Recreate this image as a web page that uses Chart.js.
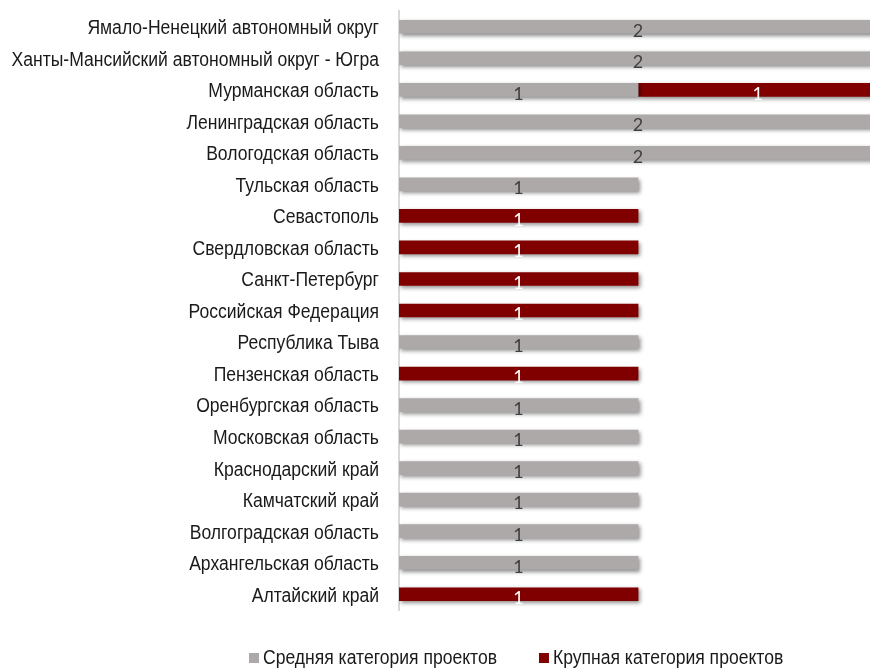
<!DOCTYPE html>
<html>
<head>
<meta charset="utf-8">
<script src="https://cdn.jsdelivr.net/npm/chart.js@4"></script>
<style>
  html, body { margin: 0; padding: 0; background: #fff; }
  #wrap { width: 870px; height: 669px; position: relative; }
</style>
</head>
<body>
<div id="wrap"><canvas id="chart"></canvas></div>
<script>
// Data
const regions = [
    "Ямало-Ненецкий автономный округ",
    "Ханты-Мансийский автономный округ - Югра",
    "Мурманская область",
    "Ленинградская область",
    "Вологодская область",
    "Тульская область",
    "Севастополь",
    "Свердловская область",
    "Санкт-Петербург",
    "Российская Федерация",
    "Республика Тыва",
    "Пензенская область",
    "Оренбургская область",
    "Московская область",
    "Краснодарский край",
    "Камчатский край",
    "Волгоградская область",
    "Архангельская область",
    "Алтайский край"
];
const mediumProjects = [2, 2, 1, 2, 2, 1, null, null, null, null, 1, null, 1, 1, 1, 1, 1, 1, null];
const largeProjects = [null, null, 1, null, null, null, 1, 1, 1, 1, null, 1, null, null, null, null, null, null, 1];
const seriesNames = ["Средняя категория проектов", "Крупная категория проектов"];

const GRAY = "#ADA9A8";
const RED = "#800000";
const FONT = "'Liberation Sans', Arial, sans-serif";
const NARROW = 0.9; // horizontal squeeze to mimic a narrow font

// Bar shadow
const shadowPlugin = {
    id: "barShadow",
    beforeDatasetsDraw(chart) {
        const c = chart.ctx;
        c.save();
        c.shadowColor = "rgba(0,0,0,0.45)";
        c.shadowBlur = 4;
        c.shadowOffsetX = 2;
        c.shadowOffsetY = 2;
    },
    afterDatasetsDraw(chart) {
        chart.ctx.restore();
    }
};

// Narrow text helper
function narrowText(c, text, x, y, align) {
    c.save();
    c.translate(x, y);
    c.scale(NARROW, 1);
    c.textAlign = align;
    c.fillText(text, 0, 0);
    c.restore();
}

// Category labels on the left
const categoryLabels = {
    id: "categoryLabels",
    afterDraw(chart) {
        const c = chart.ctx;
        const ys = chart.scales.y;
        c.save();
        c.font = "19.5px " + FONT;
        c.fillStyle = "#1a1a1a";
        c.textBaseline = "middle";
        chart.data.labels.forEach((lab, i) => {
            narrowText(c, lab, chart.chartArea.left - 20, ys.getPixelForValue(i) + 2, "right");
        });
        c.restore();
    }
};

// Value labels in bar centres
const valueLabels = {
    id: "valueLabels",
    afterDraw(chart) {
        const c = chart.ctx;
        const xs = chart.scales.x;
        c.save();
        c.font = "18px Lato, 'Open Sans', sans-serif";
        c.textAlign = "center";
        c.textBaseline = "middle";
        chart.data.datasets.forEach((ds, di) => {
            const meta = chart.getDatasetMeta(di);
            ds.data.forEach((v, i) => {
                if (v == null) return;
                let start = 0;
                for (let k = 0; k < di; k++) start += chart.data.datasets[k].data[i] || 0;
                const x = xs.getPixelForValue(start + v / 2);
                const y = meta.data[i].y + 4;
                c.fillStyle = di === 0 ? "#404040" : "#ffffff";
                c.fillText(String(v), x, y);
            });
        });
        c.restore();
    }
};

// Legend at the bottom
const bottomLegend = {
    id: "bottomLegend",
    afterDraw(chart) {
        const c = chart.ctx;
        c.save();
        c.font = "19.5px " + FONT;
        c.textBaseline = "middle";
        let x = 249;
        const y = 658;
        chart.data.datasets.forEach(ds => {
            c.fillStyle = ds.backgroundColor;
            c.fillRect(x, y - 5, 10, 10);
            x += 14;
            c.fillStyle = "#1a1a1a";
            narrowText(c, ds.label, x, y + 1, "left");
            x += c.measureText(ds.label).width * NARROW + 42;
        });
        c.restore();
    }
};

document.addEventListener("DOMContentLoaded", () => {
    const ctx = document.getElementById("chart").getContext("2d");

    new Chart(ctx, {
        type: "bar",
        data: {
            labels: regions,
            datasets: [
                {
                    label: seriesNames[0],
                    data: mediumProjects,
                    backgroundColor: GRAY,
                    barThickness: 13
                },
                {
                    label: seriesNames[1],
                    data: largeProjects,
                    backgroundColor: RED,
                    barThickness: 13
                }
            ]
        },
        options: {
            indexAxis: "y",
            responsive: true,
            maintainAspectRatio: false,
            animation: false,
            layout: {
                padding: { top: 11, bottom: 59, left: 0, right: 0 }
            },
            plugins: {
                legend: { display: false },
                tooltip: { enabled: false }
            },
            scales: {
                x: {
                    stacked: true,
                    display: false,
                    min: 0,
                    max: 1.97
                },
                y: {
                    stacked: true,
                    grid: { display: false },
                    border: { display: true, color: "#D9D9D9", width: 2 },
                    ticks: { display: false },
                    afterFit(scale) {
                        scale.width = 399;
                        scale.paddingTop = 0;
                        scale.paddingBottom = 0;
                    }
                }
            }
        },
        plugins: [shadowPlugin, categoryLabels, valueLabels, bottomLegend]
    });
});
</script>
</body>
</html>
